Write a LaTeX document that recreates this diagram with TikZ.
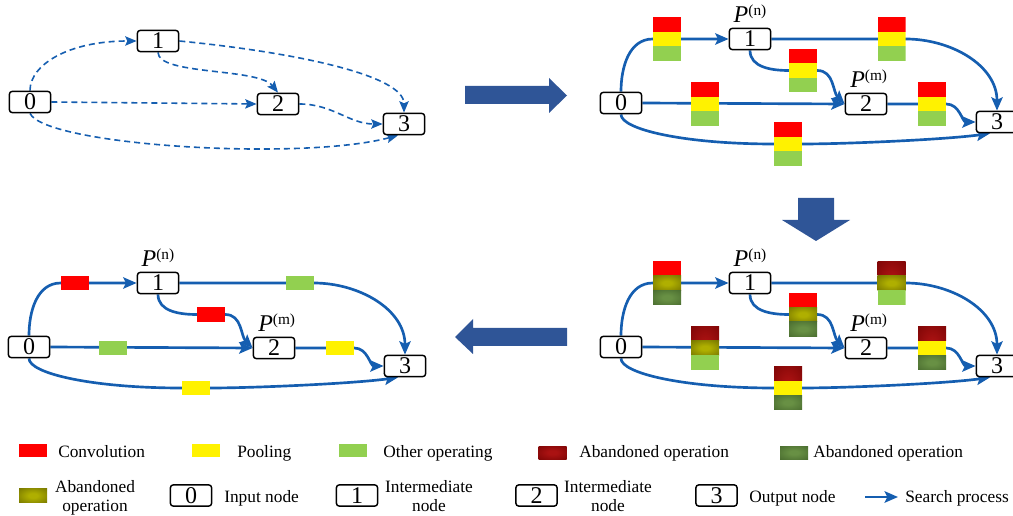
\documentclass[tikz,border=0pt]{standalone}
\usepackage{fontspec}
\setmainfont{Liberation Serif}
\usetikzlibrary{arrows.meta,positioning,backgrounds,calc}
\definecolor{eblue}{RGB}{21,94,176}
\definecolor{bigblue}{RGB}{47,85,151}
\definecolor{lgreen}{RGB}{146,208,80}
\definecolor{abrIn}{RGB}{170,18,18}
\definecolor{abrOut}{RGB}{105,0,0}
\definecolor{aboIn}{RGB}{175,175,0}
\definecolor{aboOut}{RGB}{92,92,0}
\definecolor{abgIn}{RGB}{104,144,68}
\definecolor{abgOut}{RGB}{60,92,38}
\pgfdeclareradialshading{abrshade}{\pgfpointorigin}{color(0bp)=(abrIn); color(8bp)=(abrIn); color(50bp)=(abrOut)}
\pgfdeclareradialshading{aboshade}{\pgfpointorigin}{color(0bp)=(aboIn); color(8bp)=(aboIn); color(50bp)=(aboOut)}
\pgfdeclareradialshading{abgshade}{\pgfpointorigin}{color(0bp)=(abgIn); color(8bp)=(abgIn); color(50bp)=(abgOut)}
\newcommand\supfnt{\fontsize{11.5}{11.5}\selectfont}
\tikzset{
  opnode/.style={draw=black, line width=1.1pt, rounded corners=2.3pt, fill=white,
    minimum width=31pt, minimum height=16pt, inner sep=0pt, font=\fontsize{18}{18}\selectfont},
  plabel/.style={inner sep=0pt, font=\fontsize{18}{18}\selectfont},
  edge/.style={draw=eblue, line width=2pt, -{Stealth[length=10pt,width=8.5pt,inset=2pt]}},
  dedge/.style={draw=eblue, line width=1.2pt, dash pattern=on 4.5pt off 3pt, -{Stealth[length=8.5pt,width=7pt,inset=1.5pt]}},
  conv/.style={fill=red},
  pool/.style={fill=yellow},
  oth/.style={fill=lgreen},
  abr/.style={shade, shading=abrshade},
  abo/.style={shade, shading=aboshade},
  abg/.style={shade, shading=abgshade},
  single/.style={minimum width=21pt, minimum height=10.875pt, inner sep=0pt, #1},
  stack/.style n args={3}{minimum width=21pt, minimum height=32.625pt, inner sep=0pt,
    path picture={
      \path[#1] (path picture bounding box.north west) rectangle ([yshift=-10.875pt]path picture bounding box.north east);
      \path[#2] ([yshift=-10.875pt]path picture bounding box.north west) rectangle ([yshift=10.875pt]path picture bounding box.south east);
      \path[#3] ([yshift=10.875pt]path picture bounding box.south west) rectangle (path picture bounding box.south east);
    }},
  swatch/.style={minimum width=21pt, minimum height=9.75pt, inner sep=0pt, #1},
  legtext/.style={inner sep=0pt, font=\fontsize{13}{14.5}\selectfont},
}
\newcommand\solidpanel[7]{%
  \node[opnode] (#1n0) at (621,-103) {0};
  \node[opnode] (#1n1) at (750,-39) {1};
  \node[opnode] (#1n2) at (866,-104) {2};
  \node[opnode] (#1n3) at (997,-122) {3};
  \node[plabel, above=3.5pt of #1n1] (#1pn) {\textit{P}\raisebox{5.5pt}{\supfnt(n)}};
  \node[plabel, above=3.5pt of #1n2, xshift=2pt] (#1pm) {\textit{P}\raisebox{5.5pt}{\supfnt(m)}};
  \node[#2] (#1b01) at (667,-39) {};
  \node[#3] (#1b13) at (891.5,-39) {};
  \node[#4] (#1b12) at (803,-70.5) {};
  \node[#5] (#1b02) at (705,-104) {};
  \node[#6] (#1b23) at (932,-104) {};
  \node[#7] (#1b03) at (788,-144) {};
  \begin{scope}[on background layer]
    \draw[edge] (#1n0.north) to[out=90,in=180] (#1b01.west) -- (#1n1.west);
    \draw[edge] (#1n1.east) -- (#1b13.east) to[out=0,in=90] (#1n3.north);
    \draw[edge] (#1n1.south) to[out=-90,in=180] (#1b12.west) -- (#1b12.east) to[out=0,in=135] (#1n2.west);
    \draw[edge] (#1n0.east) -- (#1n2.west);
    \draw[edge] (#1n2.east) -- (#1b23.east) to[out=0,in=180] (#1n3.west);
    \draw[edge] (#1n0.south) .. controls +(0,-15) and +(-90,0) .. (#1b03.west) -- (#1b03.east) to[out=0,in=188,looseness=0.6] ($(#1n3.south)+(-7,0)$);
  \end{scope}
}
\begin{document}
\begin{tikzpicture}[x=0.75pt,y=0.75pt]
\useasboundingbox (0,0) rectangle (1013,-516);
\clip (0,0) rectangle (1013,-516);

% ---------- panel 1 (dashed) ----------
\node[opnode] (a0) at (30,-102) {0};
\node[opnode] (a1) at (158,-41) {1};
\node[opnode] (a2) at (278,-104) {2};
\node[opnode] (a3) at (404,-124) {3};
\begin{scope}[on background layer]
  \draw[dedge] (a0.north) .. controls +(0,26) and +(-68,0) .. (a1.west);
  \draw[dedge] (a1.south) .. controls +(0,-23) and +(-20,25) .. (a2.north);
  \draw[dedge] (a1.east) .. controls +(112,-11) and +(0,38) .. (a3.north);
  \draw[dedge] (a0.east) -- (a2.west);
  \draw[dedge] (a2.east) to[out=0,in=180] (a3.west);
  \draw[dedge] (a0.south) .. controls +(15,-32) and +(-98,-26) .. ($(a3.south)+(-6,0)$);
\end{scope}

% ---------- panel 2 ----------
\solidpanel{b}{stack={conv}{pool}{oth}}{stack={conv}{pool}{oth}}{stack={conv}{pool}{oth}}{stack={conv}{pool}{oth}}{stack={conv}{pool}{oth}}{stack={conv}{pool}{oth}}

% ---------- panel 3 ----------
\begin{scope}[shift={(0,-244)}]
\solidpanel{c}{stack={conv}{abo}{abg}}{stack={abr}{abo}{oth}}{stack={conv}{abo}{abg}}{stack={abr}{abo}{oth}}{stack={abr}{pool}{abg}}{stack={abr}{pool}{abg}}
\end{scope}

% ---------- panel 4 ----------
\begin{scope}[shift={(-592,-244)}]
\solidpanel{d}{single=conv}{single=oth}{single=conv}{single=oth}{single=pool}{single=pool}
\end{scope}

% ---------- big arrows ----------
\fill[bigblue] (465,-86) -- (549,-86) -- (549,-78) -- (567,-95.5) -- (549,-113) -- (549,-104) -- (465,-104) -- cycle;
\fill[bigblue] (798,-198) -- (834,-198) -- (834,-220) -- (850,-220) -- (816,-241) -- (782,-220) -- (798,-220) -- cycle;
\fill[bigblue] (567,-328) -- (473,-328) -- (473,-319) -- (455,-337) -- (473,-354) -- (473,-346) -- (567,-346) -- cycle;

% ---------- legend ----------
\node[swatch=conv] (lg1) at (33,-450.5) {};
\node[legtext, anchor=base west] (lt1) at (58,-457) {Convolution};
\node[swatch=pool] (lg2) at (205.5,-450.5) {};
\node[legtext, anchor=base west] (lt2) at (237,-457) {Pooling};
\node[swatch=oth] (lg3) at (353,-450.5) {};
\node[legtext, anchor=base west] (lt3) at (383,-457) {Other operating};
\node[swatch=abr] (lg4) at (552.5,-452.5) {};
\node[legtext, anchor=base west] (lt4) at (579,-457) {Abandoned operation};
\node[swatch=abg] (lg5) at (794,-452.5) {};
\node[legtext, anchor=base west] (lt5) at (813,-457) {Abandoned operation};

\node[swatch=abo, minimum height=11pt] (lg6) at (33,-495.5) {};
\node[legtext, align=center, anchor=north] (lt6) at (95,-480) {Abandoned\\operation};
\node[opnode] (lg7) at (191,-495.5) {0};
\node[legtext, anchor=base west] (lt7) at (224,-502) {Input node};
\node[opnode] (lg8) at (357,-495.5) {1};
\node[legtext, align=center, anchor=north] (lt8) at (429,-480) {Intermediate\\node};
\node[opnode] (lg9) at (536.5,-495.5) {2};
\node[legtext, align=center, anchor=north] (lt9) at (608,-480) {Intermediate\\node};
\node[opnode] (lg10) at (716.5,-495.5) {3};
\node[legtext, anchor=base west] (lt10) at (749,-502) {Output node};
\coordinate (la0) at (865,-497);
\coordinate (la1) at (898,-497);
\draw[edge] (la0) -- (la1);
\node[legtext, anchor=base west] (lt11) at (905,-502) {Search process};
\end{tikzpicture}
\end{document}
